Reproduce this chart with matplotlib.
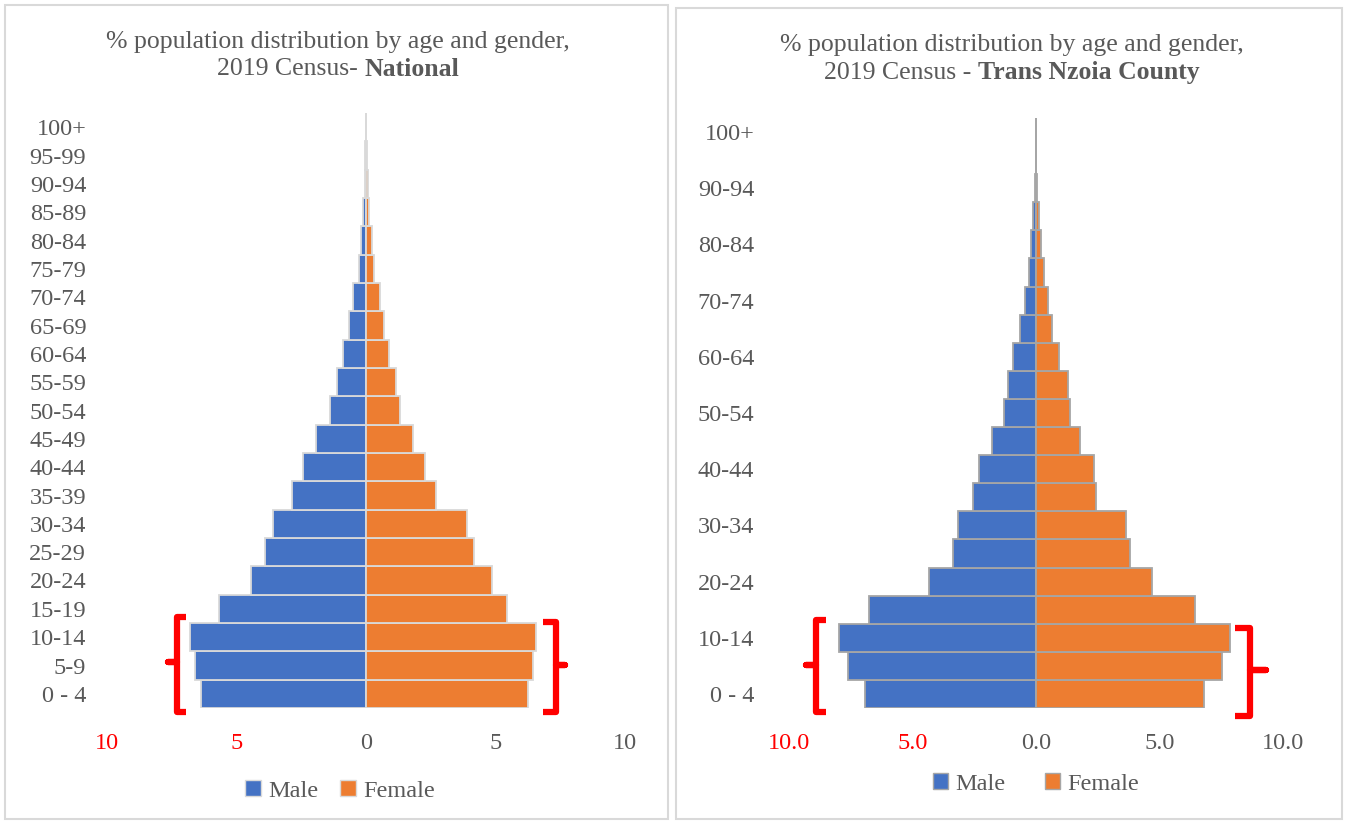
import numpy as np
import matplotlib
matplotlib.use("Agg")
import matplotlib.pyplot as plt
from matplotlib.patches import Patch, Rectangle

# --- DATA ---
AGE_GROUPS = ["0 - 4", "5-9", "10-14", "15-19", "20-24", "25-29", "30-34", "35-39",
              "40-44", "45-49", "50-54", "55-59", "60-64", "65-69", "70-74", "75-79",
              "80-84", "85-89", "90-94", "95-99", "100+"]

NAT_MALE = [6.37, 6.6, 6.8, 5.68, 4.44, 3.9, 3.59, 2.86, 2.43, 1.93, 1.39,
            1.12, 0.89, 0.66, 0.5, 0.27, 0.19, 0.12, 0.05, 0.02, 0.01]
NAT_FEMALE = [6.25, 6.45, 6.56, 5.44, 4.86, 4.17, 3.9, 2.7, 2.28, 1.81, 1.31,
              1.16, 0.89, 0.7, 0.54, 0.31, 0.23, 0.12, 0.06, 0.03, 0.01]

TNZ_MALE = [6.92, 7.6, 7.97, 6.76, 4.33, 3.36, 3.16, 2.55, 2.3, 1.78, 1.3,
            1.13, 0.93, 0.65, 0.45, 0.28, 0.2, 0.12, 0.05, 0.02, 0.01]
TNZ_FEMALE = [6.8, 7.53, 7.85, 6.44, 4.7, 3.8, 3.64, 2.43, 2.35, 1.78, 1.38,
              1.3, 0.93, 0.65, 0.49, 0.32, 0.2, 0.12, 0.05, 0.02, 0.01]

X_TICKS = [-10, -5, 0, 5, 10]

BLUE = '#4472C4'
ORANGE = '#ED7D31'
TXT = '#595959'
RED = '#FF0000'
FONT = 'Liberation Serif'
FS = 17.5

W, H = 1347, 822
plt.rcParams['font.family'] = FONT


def fx(px):
    return px / W


def fy(py):
    return 1 - py / H


def draw_brace(ax, spine, end, nub, ytop, ybot, ymid):
    # red curly bracket marking the 0-14 age groups
    xs = [end, spine, spine, nub, spine, spine, end]
    ys = [ytop, ytop, ymid, ymid, ymid, ybot, ybot]
    ax.plot(xs, ys, color=RED, lw=4.5, clip_on=False,
            solid_joinstyle='round', solid_capstyle='butt', zorder=5)


def pyramid(ax, male, female, edge, fmt, every):
    y = np.arange(len(AGE_GROUPS))
    ax.barh(y, -np.array(male), height=1.0, color=BLUE, edgecolor=edge, linewidth=1.3)
    ax.barh(y, female, height=1.0, color=ORANGE, edgecolor=edge, linewidth=1.3)
    ax.set_xlim(-10, 10)
    ax.set_ylim(-0.5, len(AGE_GROUPS) - 0.5)
    ax.set_yticks(y)
    ax.set_yticklabels([a if i % every == 0 else '' for i, a in enumerate(AGE_GROUPS)],
                       fontsize=FS, color=TXT)
    ax.set_xticks(X_TICKS)
    ax.set_xticklabels([fmt.format(abs(v)) for v in X_TICKS], fontsize=FS)
    for v, lab in zip(X_TICKS, ax.get_xticklabels()):
        lab.set_color(RED if v < 0 else TXT)
    ax.tick_params(length=0)
    for s in ax.spines.values():
        s.set_visible(False)
    ax.set_facecolor('none')


def title(fig, cx, y1, y2, normal, bold):
    fig.text(fx(cx), fy(y1), "% population distribution by age and gender,",
             ha='center', va='center', fontsize=18.5, color=TXT)
    t1 = fig.text(0, fy(y2), normal, ha='left', va='center', fontsize=18.5, color=TXT)
    t2 = fig.text(0, fy(y2), bold, ha='left', va='center', fontsize=18.5,
                  color=TXT, fontweight='bold')
    fig.canvas.draw()
    r = fig.canvas.get_renderer()
    w1 = t1.get_window_extent(r).width
    w2 = t2.get_window_extent(r).width
    x0 = cx - (w1 + w2) / 2
    t1.set_x(fx(x0))
    t2.set_x(fx(x0 + w1))


fig = plt.figure(figsize=(W / 100, H / 100), dpi=100)

# panel frames
fig.patches.append(Rectangle((fx(5), fy(819)), fx(663), fy(5) - fy(819),
                             transform=fig.transFigure, fill=False, edgecolor='#d9d9d9', lw=1.5))
fig.patches.append(Rectangle((fx(676), fy(819)), fx(666), fy(8) - fy(819),
                             transform=fig.transFigure, fill=False, edgecolor='#d9d9d9', lw=1.5))

# left panel: National
ax1 = fig.add_axes([fx(107), fy(708), fx(625 - 107), fy(113) - fy(708)])
pyramid(ax1, NAT_MALE, NAT_FEMALE, '#d9d9d9', '{:d}', 1)
ax1.tick_params(axis='y', pad=15)
ax1.tick_params(axis='x', pad=18)
draw_brace(ax1, -7.3, -6.95, -7.65, 2.72, -0.63, 1.13)
draw_brace(ax1, 7.33, 6.83, 7.68, 2.54, -0.63, 1.02)
fig.legend(handles=[Patch(facecolor=BLUE, edgecolor='#d9d9d9', label='Male'),
                    Patch(facecolor=ORANGE, edgecolor='#d9d9d9', label='Female')],
           loc='center', bbox_to_anchor=(fx(340), fy(791)), ncol=2, frameon=False,
           fontsize=FS, labelcolor=TXT, handlelength=0.65, handleheight=0.65,
           handletextpad=0.3, columnspacing=0.9)

# right panel: Trans Nzoia
ax2 = fig.add_axes([fx(789), fy(708), fx(1283 - 789), fy(118) - fy(708)])
pyramid(ax2, TNZ_MALE, TNZ_FEMALE, '#a6a6a6', '{:.1f}', 2)
ax2.tick_params(axis='y', pad=25)
ax2.tick_params(axis='x', pad=18)
draw_brace(ax2, -8.9, -8.5, -9.3, 2.63, -0.64, 1.03)
draw_brace(ax2, 8.66, 8.06, 9.3, 2.35, -0.78, 0.85)
fig.legend(handles=[Patch(facecolor=BLUE, edgecolor='#a6a6a6', label='Male'),
                    Patch(facecolor=ORANGE, edgecolor='#a6a6a6', label='Female')],
           loc='center', bbox_to_anchor=(fx(1036), fy(784)), ncol=2, frameon=False,
           fontsize=FS, labelcolor=TXT, handlelength=0.65, handleheight=0.65,
           handletextpad=0.3, columnspacing=1.6)

title(fig, 338, 42, 69, "2019 Census- ", "National")
title(fig, 1012, 45, 73, "2019 Census - ", "Trans Nzoia County")

fig.savefig('out.png', dpi=100)
